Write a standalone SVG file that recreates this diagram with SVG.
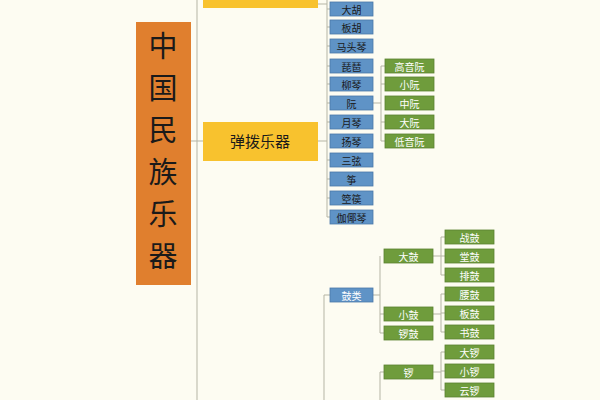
<svg xmlns="http://www.w3.org/2000/svg" width="600" height="400" viewBox="0 0 600 400">
<style>
.b rect{fill:#5f93c6;stroke:#4a78a8;stroke-width:0.8}
.b text{fill:#1a1a1a;font:10px "Noto Sans CJK SC",sans-serif;text-anchor:middle;dominant-baseline:central}
.g rect{fill:#6f9c3c;stroke:#5a8230;stroke-width:0.8}
.g text{fill:#fff;font:10px "Noto Sans CJK SC",sans-serif;text-anchor:middle;dominant-baseline:central}
.c{stroke:#b5b5a5;stroke-width:1;fill:none}
</style>
<rect width="600" height="400" fill="#fdfcf2"/>
<g id="root"><rect x="136" y="22" width="55" height="263" fill="#e07f2e"/>
<text font-family="Noto Sans CJK SC,sans-serif" font-size="29" fill="#1a1a1a" text-anchor="middle"><tspan x="163" y="57">中</tspan><tspan x="163" y="99">国</tspan><tspan x="163" y="141">民</tspan><tspan x="163" y="183">族</tspan><tspan x="163" y="225">乐</tspan><tspan x="163" y="267">器</tspan></text></g>
<g class="c" id="connectors">
<path d="M197 0V400M191 141H203M318 141H327M318 4H327"/>
<path d="M327 0V217H330M327 27H330M327 46H330M327 66H330M327 84H330M327 103H330M327 122H330M327 160H330M327 179H330M327 198H330M327 9H330"/>
<path d="M373 103H381M381 66V141H385M381 84H385M381 122H385M381 66H385"/>
<path d="M324 400V295H330M373 295H380M380 256V333H384M380 314H384M380 372V400M380 372H384"/>
<path d="M433 256H441M441 237V275H445M441 256H445M441 237H445"/>
<path d="M433 314H441M441 294V332H445M441 313H445M441 294H445"/>
<path d="M433 372H441M441 352V390H445M441 371H445M441 352H445"/>
</g>
<g id="top"><rect x="203" y="-10" width="115" height="18" fill="#f8c22e"/></g>
<g id="tanbo"><rect x="203" y="122" width="115" height="39" fill="#f8c22e"/><text x="260" y="147" font-family="Noto Sans CJK SC,sans-serif" font-size="15" fill="#1a1a1a" text-anchor="middle">弹拨乐器</text></g>
<g class="b">
<g id="n1"><rect x="330" y="2" width="43" height="14"/><text x="351.5" y="9">大胡</text></g>
<g id="n2"><rect x="330" y="20" width="43" height="14"/><text x="351.5" y="27">板胡</text></g>
<g id="n3"><rect x="330" y="39" width="43" height="14"/><text x="351.5" y="46">马头琴</text></g>
<g id="n4"><rect x="330" y="59" width="43" height="14"/><text x="351.5" y="66">琵琶</text></g>
<g id="n5"><rect x="330" y="77" width="43" height="14"/><text x="351.5" y="84">柳琴</text></g>
<g id="n6"><rect x="330" y="96" width="43" height="14"/><text x="351.5" y="103">阮</text></g>
<g id="n7"><rect x="330" y="115" width="43" height="14"/><text x="351.5" y="122">月琴</text></g>
<g id="n8"><rect x="330" y="134" width="43" height="14"/><text x="351.5" y="141">扬琴</text></g>
<g id="n9"><rect x="330" y="153" width="43" height="14"/><text x="351.5" y="160">三弦</text></g>
<g id="n10"><rect x="330" y="172" width="43" height="14"/><text x="351.5" y="179">筝</text></g>
<g id="n11"><rect x="330" y="191" width="43" height="14"/><text x="351.5" y="198">箜篌</text></g>
<g id="n12"><rect x="330" y="210" width="43" height="14"/><text x="351.5" y="217">伽倻琴</text></g>
<g id="n13"><rect x="330" y="288" width="43" height="14"/><text x="351.5" y="295" style="fill:#fff">鼓类</text></g>
</g>
<g class="g">
<g id="r1"><rect x="385" y="59" width="49" height="14"/><text x="409.5" y="66">高音阮</text></g>
<g id="r2"><rect x="385" y="77" width="49" height="14"/><text x="409.5" y="84">小阮</text></g>
<g id="r3"><rect x="385" y="96" width="49" height="14"/><text x="409.5" y="103">中阮</text></g>
<g id="r4"><rect x="385" y="115" width="49" height="14"/><text x="409.5" y="122">大阮</text></g>
<g id="r5"><rect x="385" y="134" width="49" height="14"/><text x="409.5" y="141">低音阮</text></g>
<g id="d1"><rect x="384" y="249" width="49" height="14"/><text x="408.5" y="256">大鼓</text></g>
<g id="d2"><rect x="384" y="307" width="49" height="14"/><text x="408.5" y="314">小鼓</text></g>
<g id="d3"><rect x="384" y="326" width="49" height="14"/><text x="408.5" y="333">锣鼓</text></g>
<g id="d4"><rect x="384" y="365" width="49" height="14"/><text x="408.5" y="372">锣</text></g>
<g id="e1"><rect x="445" y="230" width="49" height="14"/><text x="469.5" y="237">战鼓</text></g>
<g id="e2"><rect x="445" y="249" width="49" height="14"/><text x="469.5" y="256">堂鼓</text></g>
<g id="e3"><rect x="445" y="268" width="49" height="14"/><text x="469.5" y="275">排鼓</text></g>
<g id="e4"><rect x="445" y="287" width="49" height="14"/><text x="469.5" y="294">腰鼓</text></g>
<g id="e5"><rect x="445" y="306" width="49" height="14"/><text x="469.5" y="313">板鼓</text></g>
<g id="e6"><rect x="445" y="325" width="49" height="14"/><text x="469.5" y="332">书鼓</text></g>
<g id="e7"><rect x="445" y="345" width="49" height="14"/><text x="469.5" y="352">大锣</text></g>
<g id="e8"><rect x="445" y="364" width="49" height="14"/><text x="469.5" y="371">小锣</text></g>
<g id="e9"><rect x="445" y="383" width="49" height="14"/><text x="469.5" y="390">云锣</text></g>
</g>
</svg>
